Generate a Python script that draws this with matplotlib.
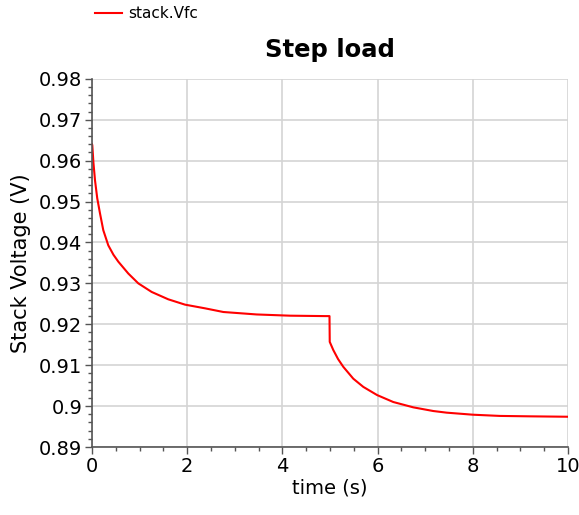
import matplotlib
matplotlib.use("Agg")
import matplotlib.pyplot as plt
from matplotlib.ticker import MultipleLocator, FuncFormatter

# values
time_s = [0.0, 0.006, 0.03, 0.063, 0.11, 0.168, 0.237, 0.342, 0.45, 0.553, 0.763, 0.973, 1.254,
          1.603, 1.954, 2.374, 2.76, 3.46, 4.16, 4.895, 4.99,
          4.995, 5.07, 5.17, 5.28, 5.49, 5.70, 5.99, 6.33, 6.75, 7.17, 7.45,
          8.0, 8.57, 9.2, 10.0]
stack_vfc = [0.9640, 0.9638, 0.9595, 0.9552, 0.9508, 0.9471, 0.9430, 0.9393, 0.9370, 0.9353, 0.9324,
             0.9300, 0.9279, 0.9261, 0.9248, 0.9239, 0.9230, 0.9224, 0.9221, 0.9220, 0.9220,
             0.9157, 0.9137, 0.9115, 0.9096, 0.9067, 0.9047, 0.9027, 0.9010, 0.8997, 0.8988, 0.8984,
             0.8979, 0.8976, 0.8975, 0.8974]

fig = plt.figure(figsize=(5.79, 5.15), dpi=100)
ax = fig.add_axes([0.1589, 0.132, 0.822, 0.715])

line, = ax.plot(time_s, stack_vfc, color="#ff0000", lw=1.5, label="stack.Vfc")

ax.set_xlim(0, 10)
ax.set_ylim(0.89, 0.98)
ax.xaxis.set_major_locator(MultipleLocator(2))
ax.xaxis.set_minor_locator(MultipleLocator(0.5))
ax.yaxis.set_major_locator(MultipleLocator(0.01))
ax.yaxis.set_minor_locator(MultipleLocator(0.002))
ax.yaxis.set_major_formatter(FuncFormatter(lambda v, p: "%g" % round(v, 4)))
ax.xaxis.set_major_formatter(FuncFormatter(lambda v, p: "%g" % v))

ax.grid(True, which="major", color="#d4d4d4", lw=1.2)
ax.set_axisbelow(True)
for s in ["top", "right"]:
    ax.spines[s].set_visible(False)
for s in ["left", "bottom"]:
    ax.spines[s].set_color("#555555")
    ax.spines[s].set_linewidth(1.2)

ax.tick_params(which="major", length=5, width=1, color="#555555", labelsize=14, pad=2)
ax.tick_params(which="minor", length=3, width=1, color="#555555")

ax.set_xlabel("time (s)", fontsize=14, labelpad=2)
ax.set_ylabel("Stack Voltage (V)", fontsize=15, labelpad=6)
ax.set_title("Step load", fontsize=17.5, fontweight="bold", pad=16)

fig.legend(handles=[line], loc="upper left", bbox_to_anchor=(0.14, 1.015),
           frameon=False, fontsize=11, handlelength=1.8, handletextpad=0.4)

fig.savefig("out.png", dpi=100)
